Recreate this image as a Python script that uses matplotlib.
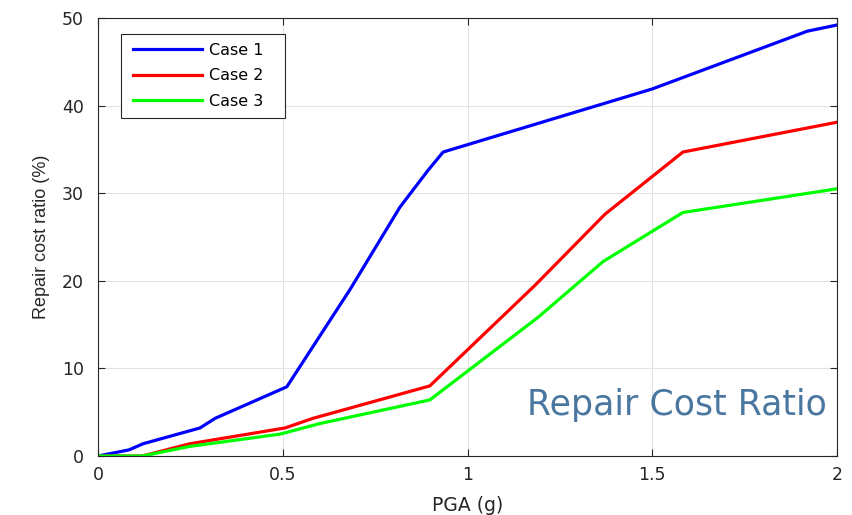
import matplotlib

matplotlib.use("Agg")
import matplotlib.pyplot as plt
from matplotlib.patches import Rectangle

plt.rcParams["font.family"] = ["DejaVu Sans"]

# data
case1_x = [0, 0.084, 0.122, 0.276, 0.317, 0.511, 0.682, 0.817, 0.893, 0.934, 1.5, 1.92, 2.0]
case1_y = [0, 0.7, 1.4, 3.2, 4.3, 7.9, 19.0, 28.4, 32.6, 34.7, 41.9, 48.5, 49.2]
case2_x = [0, 0.12, 0.249, 0.506, 0.582, 0.898, 1.183, 1.372, 1.583, 2.0]
case2_y = [0, 0, 1.4, 3.2, 4.3, 8.0, 19.5, 27.6, 34.7, 38.1]
case3_x = [0, 0.12, 0.249, 0.493, 0.60, 0.898, 1.19, 1.367, 1.583, 2.0]
case3_y = [0, 0, 1.1, 2.5, 3.7, 6.4, 15.8, 22.2, 27.8, 30.5]

x_ticks = [0, 0.5, 1, 1.5, 2]
x_tick_labels = ["0", "0.5", "1", "1.5", "2"]
y_ticks = [0, 10, 20, 30, 40, 50]

W, H = 852, 515
DARK = "#262626"


def main():
    fig = plt.figure(figsize=(W / 100, H / 100), dpi=100)
    ax = fig.add_axes([98 / W, 1 - 456 / H, 739 / W, 438 / H])

    ax.plot(case1_x, case1_y, color="#0000ff", linewidth=2.3, label="Case 1")
    ax.plot(case2_x, case2_y, color="#ff0000", linewidth=2.3, label="Case 2")
    ax.plot(case3_x, case3_y, color="#00ff00", linewidth=2.3, label="Case 3")

    ax.set_xlim(0, 2)
    ax.set_ylim(0, 50)
    ax.set_xticks(x_ticks)
    ax.set_xticklabels(x_tick_labels)
    ax.set_yticks(y_ticks)
    ax.grid(True, color="#e3e3e3", linewidth=0.8)
    ax.set_axisbelow(True)
    ax.tick_params(direction="in", top=True, right=True, length=5, width=0.8,
                   colors=DARK, labelsize=12.5, labelcolor=DARK)
    ax.tick_params(axis="x", pad=7)
    ax.tick_params(axis="y", pad=10)
    for s in ax.spines.values():
        s.set_color(DARK)
        s.set_linewidth(0.8)

    ax.set_xlabel("PGA (g)", fontsize=13.5, color=DARK, labelpad=9)
    ax.set_ylabel("Repair cost ratio (%)", fontsize=13, color=DARK, labelpad=9,
                  family=["Liberation Sans", "DejaVu Sans"])

    # legend box drawn by hand (MATLAB leaves more room on the right)
    ax.add_patch(Rectangle((121 / W, 1 - 118 / H), 164 / W, 84 / H,
                           transform=fig.transFigure, facecolor="white",
                           edgecolor=DARK, linewidth=0.8, zorder=5, clip_on=False))
    leg = ax.legend(loc="upper left", bbox_to_anchor=((133 - 98) / 739, (456 - 43) / 438),
                    fontsize=11.5, frameon=False, handlelength=4.3, handletextpad=0.45,
                    borderpad=0, labelspacing=0.65, borderaxespad=0)
    leg.set_zorder(6)

    ax.text((827 - 98) / 739, (456 - 415) / 438, "Repair Cost Ratio", transform=ax.transAxes,
            ha="right", va="baseline", fontsize=25, color="#4a77a0")

    fig.savefig("out.png", dpi=100)
    plt.close(fig)


if __name__ == "__main__":
    main()
